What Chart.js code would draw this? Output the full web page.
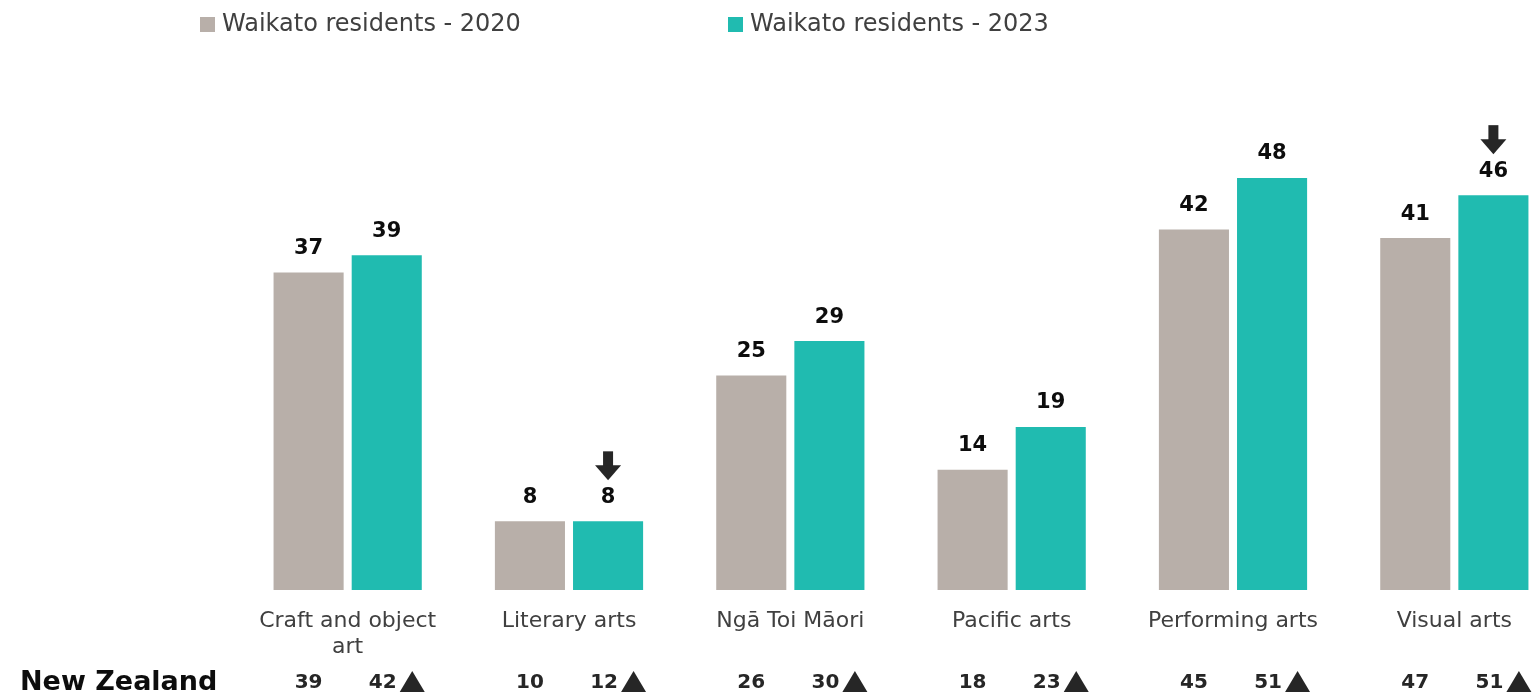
<!DOCTYPE html>
<html>
<head>
<meta charset="utf-8">
<script src="https://cdn.jsdelivr.net/npm/chart.js@4/dist/chart.umd.min.js"></script>
<style>
  html, body { margin: 0; padding: 0; background: #fff; overflow: hidden; }
  #wrap { width: 1566px; height: 696px; }
</style>
</head>
<body>
<div id="wrap"><canvas id="c" width="1566" height="696"></canvas></div>
<script>
const categories = [["Craft and object", "art"], "Literary arts", "Ngā Toi Māori", "Pacific arts", "Performing arts", "Visual arts"];
const seriesNames = ["Waikato residents - 2020", "Waikato residents - 2023"];
const waikato2020 = [37, 8, 25, 14, 42, 41];
const waikato2023 = [39, 8, 29, 19, 48, 46];
const waikato2023Down = [false, true, false, false, false, true];
const nz2020 = [39, 10, 26, 18, 45, 47];
const nz2023 = [42, 12, 30, 23, 51, 51];
const nz2023Up = [true, true, true, true, true, true];
const rowLabel = "New Zealand";

const GREY = "#B8AFA9";
const TEAL = "#20BBB0";
const DARK = "#262626";
const FONT = "'DejaVu Sans', sans-serif";

const overlay = {
  id: "overlay",
  afterDatasetsDraw(chart) {
    const ctx = chart.ctx;
    ctx.save();
    // value labels
    ctx.textAlign = "center";
    ctx.textBaseline = "middle";
    ctx.font = "bold 21px " + FONT;
    chart.data.datasets.forEach((ds, di) => {
      const meta = chart.getDatasetMeta(di);
      meta.data.forEach((bar, i) => {
        ctx.fillStyle = "#0d0d0d";
        ctx.fillText(String(ds.data[i]), bar.x, bar.y - 24);
        if (di === 1 && waikato2023Down[i]) {
          const top = bar.y - 70, bot = bar.y - 41, cx = bar.x;
          ctx.fillStyle = DARK;
          ctx.fillRect(cx - 5, top, 10, 15);
          ctx.beginPath();
          ctx.moveTo(cx - 13, top + 14);
          ctx.lineTo(cx + 13, top + 14);
          ctx.lineTo(cx, bot);
          ctx.closePath();
          ctx.fill();
        }
      });
    });
    // New Zealand row
    const rowY = 683;
    ctx.fillStyle = "#0d0d0d";
    ctx.textAlign = "left";
    ctx.font = "bold 27px " + FONT;
    ctx.fillText(rowLabel, 20, rowY);
    ctx.font = "bold 20px " + FONT;
    ctx.fillStyle = DARK;
    ctx.textAlign = "center";
    const m0 = chart.getDatasetMeta(0), m1 = chart.getDatasetMeta(1);
    m0.data.forEach((bar, i) => {
      ctx.fillText(String(nz2020[i]), bar.x, rowY);
    });
    m1.data.forEach((bar, i) => {
      ctx.fillText(String(nz2023[i]), bar.x - 4, rowY);
      if (nz2023Up[i]) {
        const l = bar.x + 13;
        ctx.beginPath();
        ctx.moveTo(l, rowY + 9);
        ctx.lineTo(l + 25, rowY + 9);
        ctx.lineTo(l + 12.5, rowY - 12);
        ctx.closePath();
        ctx.fill();
      }
    });
    // legend
    ctx.font = "24px " + FONT;
    ctx.textAlign = "left";
    const legendX = [200, 728];
    chart.data.datasets.forEach((ds, di) => {
      ctx.fillStyle = ds.backgroundColor;
      ctx.fillRect(legendX[di], 17, 15, 15);
      ctx.fillStyle = "#404040";
      ctx.fillText(ds.label, legendX[di] + 22, 25);
    });
    ctx.restore();
  }
};

new Chart(document.getElementById("c"), {
  type: "bar",
  data: {
    labels: categories,
    datasets: [
      { label: seriesNames[0], data: waikato2020, backgroundColor: GREY, categoryPercentage: 0.706, barPercentage: 0.897 },
      { label: seriesNames[1], data: waikato2023, backgroundColor: TEAL, categoryPercentage: 0.706, barPercentage: 0.897 }
    ]
  },
  options: {
    responsive: false,
    animation: false,
    layout: { padding: { top: 75, left: 237, right: 1, bottom: 0 } },
    plugins: { legend: { display: false }, tooltip: { enabled: false } },
    scales: {
      y: { display: false, min: 0, max: 60 },
      x: {
        grid: { display: false, drawTicks: false },
        border: { display: false },
        ticks: { color: "#404040", font: { family: FONT, size: 22 }, padding: 18, maxRotation: 0, autoSkip: false },
        afterFit(scale) { scale.height = 106; }
      }
    }
  },
  plugins: [overlay]
});
</script>
</body>
</html>
